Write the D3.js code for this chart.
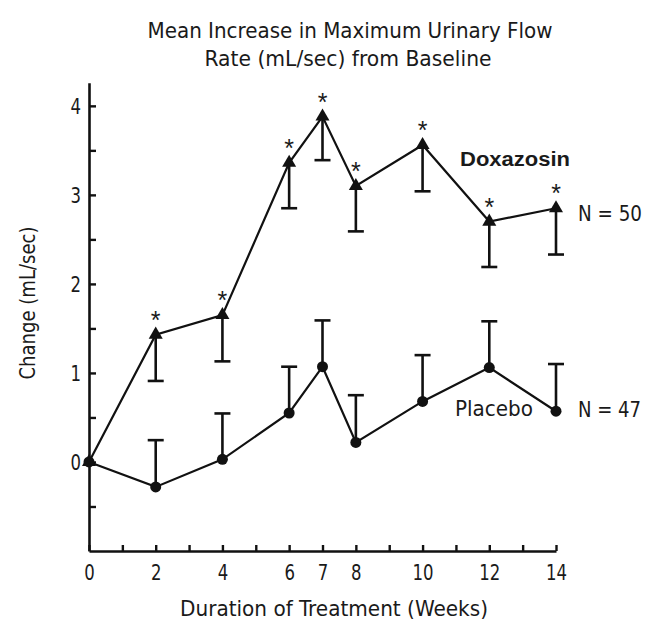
<!DOCTYPE html>
<html>
<head>
<meta charset="utf-8">
<script src="https://cdn.jsdelivr.net/npm/d3@7"></script>
<style>
  html, body { margin: 0; padding: 0; background: #fff; }
  svg { display: block; }
  text { fill: #1a1a1a; }
</style>
</head>
<body>
<svg id="chart" width="647" height="623"></svg>
<script>
// ---- data ----
const weeks = [0, 2, 4, 6, 7, 8, 10, 12, 14];
const doxazosinMean = [0, 1.43, 1.65, 3.36, 3.88, 3.10, 3.56, 2.70, 2.85];
const doxazosinLower = [0, 0.91, 1.13, 2.85, 3.39, 2.59, 3.04, 2.19, 2.33];
const doxazosinSignificant = [false, true, true, true, true, true, true, true, true];
const placeboMean = [0, -0.28, 0.03, 0.55, 1.07, 0.22, 0.68, 1.06, 0.57];
const placeboUpper = [0, 0.245, 0.545, 1.07, 1.59, 0.75, 1.20, 1.58, 1.10];
const xTickLabels = [0, 2, 4, 6, 7, 8, 10, 12, 14];
const yTickLabels = [0, 1, 2, 3, 4];
const yMinorTicks = [-0.5, 0.5, 1.5, 2.5, 3.5];
const titleLines = ["Mean Increase in Maximum Urinary Flow", "Rate (mL/sec) from Baseline"];
const xTitle = "Duration of Treatment (Weeks)";
const yTitle = "Change (mL/sec)";

const FONT = "'Liberation Sans Narrow', 'DejaVu Sans Condensed', 'Arial Narrow', sans-serif";
const svg = d3.select("#chart");

const x = d3.scaleLinear().domain([0, 14]).range([89, 556]);
const y = d3.scaleLinear().domain([-1, 4.26]).range([551, 82.7]);

// ---- axes ----
const xAxis = d3.axisBottom(x)
  .tickValues(d3.range(0, 15))
  .tickSizeInner(-6).tickSizeOuter(0).tickPadding(13)
  .tickFormat(d => xTickLabels.includes(d) ? String(d) : "");
const gx = svg.append("g").attr("transform", `translate(0,${y(-1)})`).call(xAxis);

const yAxis = d3.axisLeft(y)
  .tickValues([...yTickLabels, ...yMinorTicks])
  .tickSizeInner(-7).tickSizeOuter(0).tickPadding(8)
  .tickFormat(d => yTickLabels.includes(d) ? String(d) : "");
const gy = svg.append("g").attr("transform", `translate(${x(0)},0)`).call(yAxis);

[gx, gy].forEach(g => {
  g.select(".domain").attr("stroke", "#111").attr("stroke-width", 2.6);
  g.selectAll(".tick line").attr("stroke", "#111").attr("stroke-width", 2.4);
  g.selectAll(".tick text").attr("font-family", FONT).attr("font-size", 22).attr("fill", "#1a1a1a")
    .each(function() {
      const t = d3.select(this).text();
      if (t) d3.select(this).attr("textLength", 10.5 * t.length).attr("lengthAdjust", "spacingAndGlyphs");
    });
});
gy.selectAll(".tick text").attr("dy", "0.36em");

// ---- series ----
const dox = weeks.map((w, i) => ({ w, v: doxazosinMean[i], lo: doxazosinLower[i], sig: doxazosinSignificant[i] }));
const pla = weeks.map((w, i) => ({ w, v: placeboMean[i], hi: placeboUpper[i] }));

const line = d3.line().x(d => x(d.w)).y(d => y(d.v));

// error bars
const capW = 8;
svg.append("g").selectAll("g").data(dox.filter(d => d.w > 0)).join("g").each(function(d) {
  const g = d3.select(this);
  g.append("line").attr("x1", x(d.w)).attr("x2", x(d.w)).attr("y1", y(d.v)).attr("y2", y(d.lo))
    .attr("stroke", "#111").attr("stroke-width", 2.6);
  g.append("line").attr("x1", x(d.w) - capW).attr("x2", x(d.w) + capW).attr("y1", y(d.lo)).attr("y2", y(d.lo))
    .attr("stroke", "#111").attr("stroke-width", 2.6);
});
svg.append("g").selectAll("g").data(pla.filter(d => d.w > 0)).join("g").each(function(d) {
  const g = d3.select(this);
  g.append("line").attr("x1", x(d.w)).attr("x2", x(d.w)).attr("y1", y(d.v)).attr("y2", y(d.hi))
    .attr("stroke", "#111").attr("stroke-width", 2.6);
  g.append("line").attr("x1", x(d.w) - capW).attr("x2", x(d.w) + capW).attr("y1", y(d.hi)).attr("y2", y(d.hi))
    .attr("stroke", "#111").attr("stroke-width", 2.6);
});

svg.append("path").datum(dox).attr("d", line).attr("fill", "none").attr("stroke", "#111").attr("stroke-width", 2.2);
svg.append("path").datum(pla).attr("d", line).attr("fill", "none").attr("stroke", "#111").attr("stroke-width", 2.2);

// markers
svg.append("g").selectAll("path").data(dox).join("path")
  .attr("transform", d => `translate(${x(d.w)},${y(d.v)})`)
  .attr("d", d3.symbol(d3.symbolTriangle, 85))
  .attr("fill", "#111");
svg.append("g").selectAll("circle").data(pla).join("circle")
  .attr("cx", d => x(d.w)).attr("cy", d => y(d.v)).attr("r", 5.5)
  .attr("fill", "#111");

// significance asterisks
svg.append("g").selectAll("text").data(dox.filter(d => d.sig)).join("text")
  .attr("x", d => x(d.w)).attr("y", d => y(d.v) - 6)
  .attr("text-anchor", "middle")
  .attr("font-family", "'Liberation Sans', Arial, sans-serif").attr("font-size", 25)
  .text("*");

// ---- labels ----
svg.append("text").attr("x", 350).attr("y", 38).attr("text-anchor", "middle")
  .attr("font-family", FONT).attr("font-size", 21)
  .attr("textLength", 405).attr("lengthAdjust", "spacingAndGlyphs").text(titleLines[0]);
svg.append("text").attr("x", 348).attr("y", 66).attr("text-anchor", "middle")
  .attr("font-family", FONT).attr("font-size", 21)
  .attr("textLength", 287).attr("lengthAdjust", "spacingAndGlyphs").text(titleLines[1]);

svg.append("text").attr("x", 334).attr("y", 616).attr("text-anchor", "middle")
  .attr("font-family", FONT).attr("font-size", 22)
  .attr("textLength", 308).attr("lengthAdjust", "spacingAndGlyphs").text(xTitle);

svg.append("text").attr("transform", "translate(35,303) rotate(-90)").attr("text-anchor", "middle")
  .attr("font-family", FONT).attr("font-size", 22)
  .attr("textLength", 153).attr("lengthAdjust", "spacingAndGlyphs").text(yTitle);

svg.append("text").attr("x", 460).attr("y", 166)
  .attr("font-family", "'Liberation Sans', Arial, sans-serif").attr("font-weight", "bold").attr("font-size", 20)
  .attr("textLength", 110).attr("lengthAdjust", "spacingAndGlyphs").text("Doxazosin");

svg.append("text").attr("x", 578).attr("y", 221)
  .attr("font-family", FONT).attr("font-size", 22)
  .attr("textLength", 64).attr("lengthAdjust", "spacingAndGlyphs").text("N = 50");

svg.append("text").attr("x", 455).attr("y", 416)
  .attr("font-family", FONT).attr("font-size", 22)
  .attr("textLength", 78).attr("lengthAdjust", "spacingAndGlyphs").text("Placebo");

svg.append("text").attr("x", 578).attr("y", 417)
  .attr("font-family", FONT).attr("font-size", 22)
  .attr("textLength", 63).attr("lengthAdjust", "spacingAndGlyphs").text("N = 47");
</script>
</body>
</html>
